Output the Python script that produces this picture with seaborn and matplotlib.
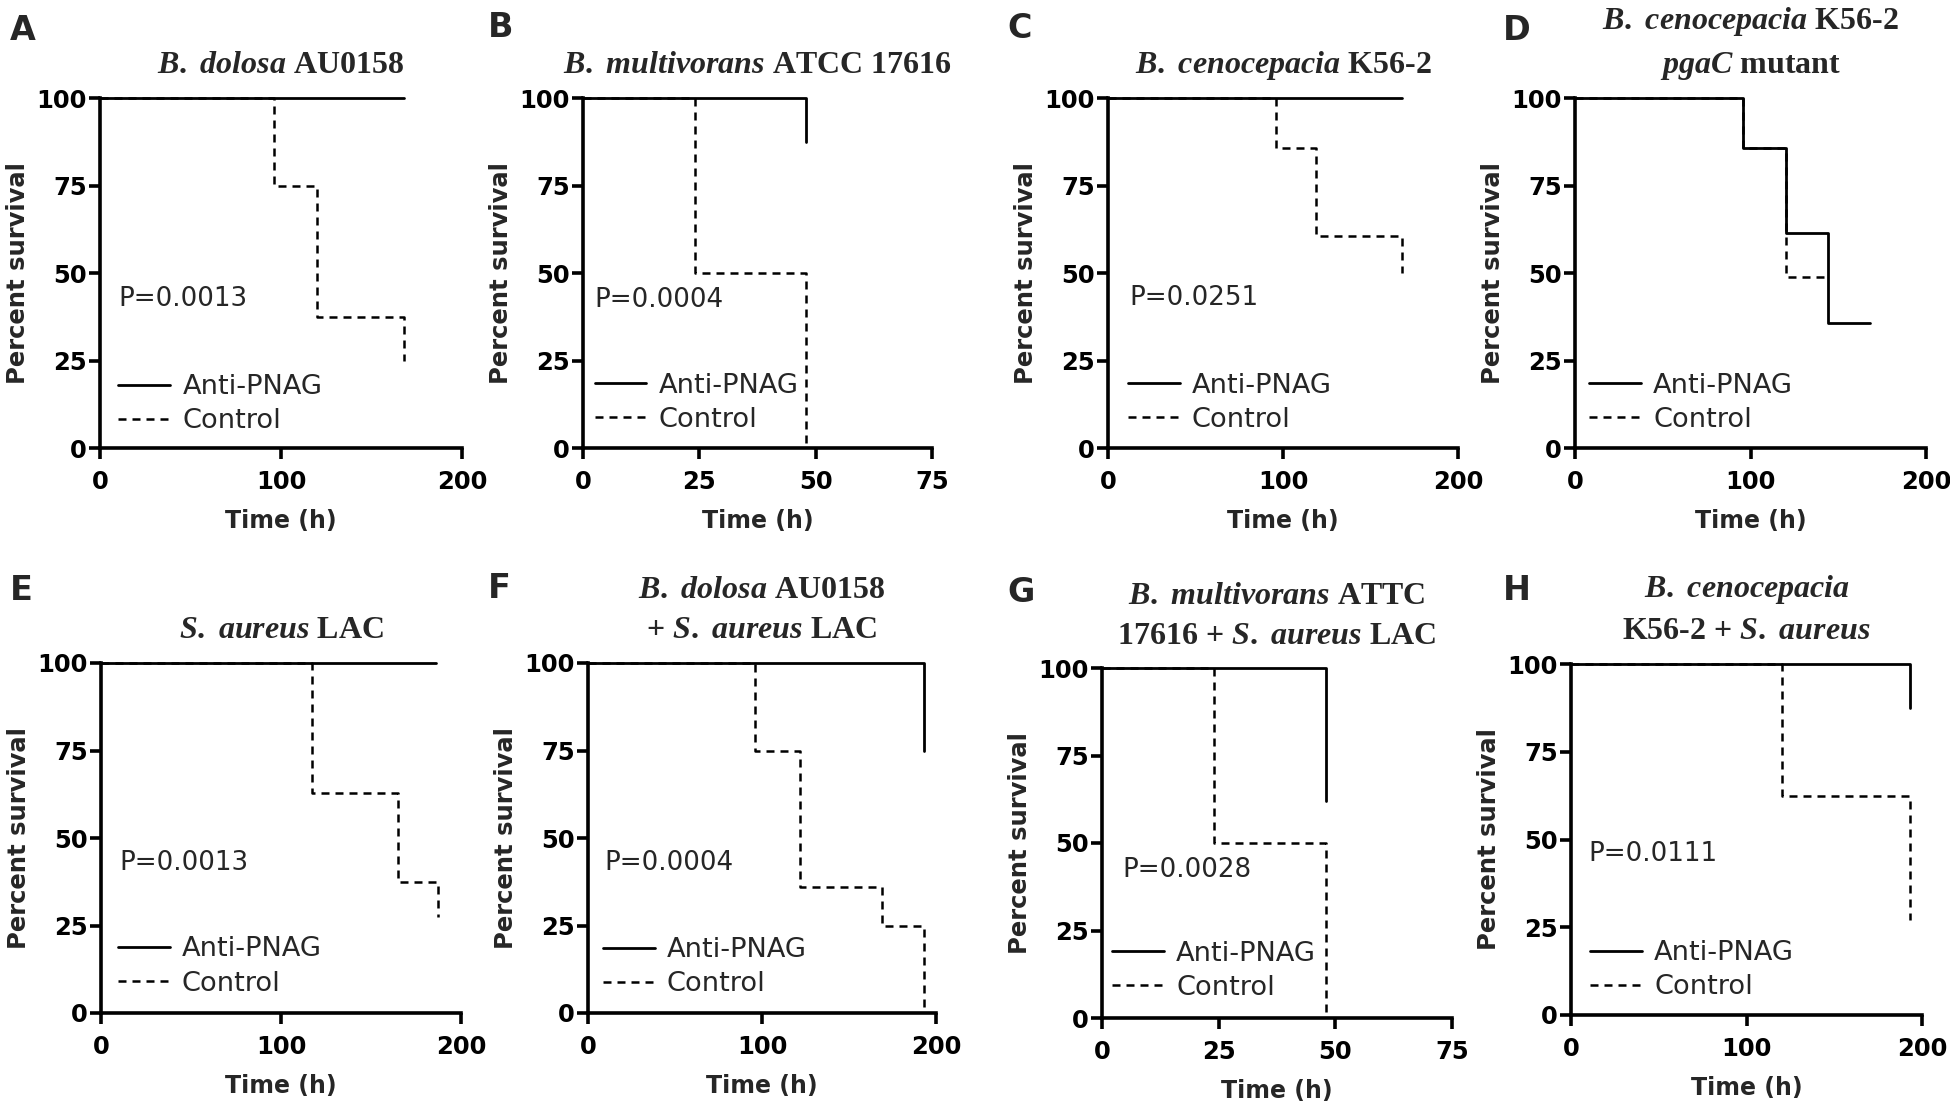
import matplotlib
matplotlib.use('Agg')
import matplotlib.pyplot as plt
import seaborn as sns

# survival curves: time (h) and percent survival
a_anti_t = [0, 168]
a_anti_s = [100, 100]
a_ctrl_t = [0, 96, 120, 168]
a_ctrl_s = [100, 75, 37.5, 25]

b_anti_t = [0, 48]
b_anti_s = [100, 87.5]
b_ctrl_t = [0, 24, 48]
b_ctrl_s = [100, 50, 0]

c_anti_t = [0, 168]
c_anti_s = [100, 100]
c_ctrl_t = [0, 96, 119, 168]
c_ctrl_s = [100, 85.7, 60.7, 50]

d_anti_t = [0, 96, 120, 144, 168]
d_anti_s = [100, 85.7, 61.5, 35.7, 35.7]
d_ctrl_t = [0, 96, 120, 144]
d_ctrl_s = [100, 85.7, 49, 49]

e_anti_t = [0, 186]
e_anti_s = [100, 100]
e_ctrl_t = [0, 117, 165, 187]
e_ctrl_s = [100, 63, 37.5, 27.5]

f_anti_t = [0, 193]
f_anti_s = [100, 75]
f_ctrl_t = [0, 96, 122, 169, 193]
f_ctrl_s = [100, 75, 36, 25, 0]

g_anti_t = [0, 48]
g_anti_s = [100, 62]
g_ctrl_t = [0, 24, 48]
g_ctrl_s = [100, 50, 0]

h_anti_t = [0, 193]
h_anti_s = [100, 87.5]
h_ctrl_t = [0, 120, 193]
h_ctrl_s = [100, 62.5, 27]

letters = ['A', 'B', 'C', 'D', 'E', 'F', 'G', 'H']
titles = [
    r'$\mathit{B.\ dolosa}$ AU0158',
    r'$\mathit{B.\ multivorans}$ ATCC 17616',
    r'$\mathit{B.\ cenocepacia}$ K56-2',
    r'$\mathit{B.\ cenocepacia}$ K56-2' + '\n' + r'$\mathit{pgaC}$ mutant',
    r'$\mathit{S.\ aureus}$ LAC',
    r'$\mathit{B.\ dolosa}$ AU0158' + '\n' + r'+ $\mathit{S.\ aureus}$ LAC',
    r'$\mathit{B.\ multivorans}$ ATTC' + '\n' + r'17616 + $\mathit{S.\ aureus}$ LAC',
    r'$\mathit{B.\ cenocepacia}$' + '\n' + r'K56-2 + $\mathit{S.\ aureus}$',
]
p_values = ['P=0.0013', 'P=0.0004', 'P=0.0251', None,
            'P=0.0013', 'P=0.0004', 'P=0.0028', 'P=0.0111']
x_max = [200, 75, 200, 200, 200, 200, 75, 200]
x_ticks = [[0, 100, 200], [0, 25, 50, 75], [0, 100, 200], [0, 100, 200],
           [0, 100, 200], [0, 100, 200], [0, 25, 50, 75], [0, 100, 200]]
y_ticks = [0, 25, 50, 75, 100]
groups = ['Anti-PNAG', 'Control']

anti = [(a_anti_t, a_anti_s), (b_anti_t, b_anti_s), (c_anti_t, c_anti_s), (d_anti_t, d_anti_s),
        (e_anti_t, e_anti_s), (f_anti_t, f_anti_s), (g_anti_t, g_anti_s), (h_anti_t, h_anti_s)]
ctrl = [(a_ctrl_t, a_ctrl_s), (b_ctrl_t, b_ctrl_s), (c_ctrl_t, c_ctrl_s), (d_ctrl_t, d_ctrl_s),
        (e_ctrl_t, e_ctrl_s), (f_ctrl_t, f_ctrl_s), (g_ctrl_t, g_ctrl_s), (h_ctrl_t, h_ctrl_s)]

# layout (pixels in a 1950x1109 canvas): axes boxes left, top, right, bottom
W, H = 1950, 1109
boxes = [(100, 98, 462, 448), (583, 98, 932, 448), (1108, 98, 1458, 448), (1575, 98, 1926, 448),
         (101, 663, 461, 1013), (588, 663, 936, 1013), (1102, 668, 1452, 1018), (1571, 664, 1922, 1015)]
letter_pos = [(10, 14), (488, 11), (1007, 12), (1503, 14),
              (10, 574), (488, 572), (1007, 576), (1503, 574)]
title_pad = [18, 18, 18, 18, 18, 18, 17, 18]
# legend lower-left and P text (baseline) in axes fraction
leg_pos = [(0.051, 0.039), (0.033, 0.043), (0.057, 0.043), (0.040, 0.043),
           (0.047, 0.047), (0.043, 0.045), (0.029, 0.049), (0.055, 0.042)]
p_pos = [(0.051, 0.407), (0.033, 0.403), (0.062, 0.408), None,
         (0.052, 0.41), (0.048, 0.409), (0.057, 0.402), (0.050, 0.439)]

sns.set_style('ticks')
plt.rcParams['font.family'] = ['DejaVu Sans']
plt.rcParams['mathtext.fontset'] = 'custom'
plt.rcParams['mathtext.it'] = 'Liberation Serif:italic:bold'
plt.rcParams['mathtext.rm'] = 'Liberation Serif:bold'
plt.rcParams['mathtext.bf'] = 'Liberation Serif:bold'

fig = plt.figure(figsize=(W / 100, H / 100), dpi=100)

for i in range(8):
    l, t, r, b = boxes[i]
    ax = fig.add_axes([l / W, 1 - b / H, (r - l) / W, (b - t) / H])

    sns.lineplot(x=anti[i][0], y=anti[i][1], ax=ax, color='black', lw=2.0,
                 drawstyle='steps-post', estimator=None, errorbar=None, sort=False,
                 clip_on=False)
    sns.lineplot(x=ctrl[i][0], y=ctrl[i][1], ax=ax, color='black', lw=1.8,
                 linestyle=(0, (3.2, 2.4)), drawstyle='steps-post', estimator=None,
                 errorbar=None, sort=False, clip_on=False)

    ax.set_xlim(0, x_max[i])
    ax.set_ylim(0, 100)
    ax.set_xticks(x_ticks[i])
    ax.set_yticks(y_ticks)
    sns.despine(ax=ax)
    for side in ['left', 'bottom']:
        ax.spines[side].set_linewidth(2.6)
        ax.spines[side].set_color('black')
        ax.spines[side].set_capstyle('projecting')
    ax.tick_params(axis='both', direction='out', length=8, width=2.6, color='black',
                   labelsize=17.5, labelcolor='black')
    ax.tick_params(axis='x', pad=7.5)
    ax.tick_params(axis='y', pad=1.5)
    for lab in ax.get_xticklabels() + ax.get_yticklabels():
        lab.set_fontweight('bold')

    ax.set_xlabel('Time (h)', fontsize=17, fontweight='bold', labelpad=11)
    ax.set_ylabel('Percent survival', fontsize=17.5, fontweight='bold', labelpad=4.5)
    ax.set_title(titles[i], fontsize=23, fontfamily='Liberation Serif', fontweight='bold',
                 pad=title_pad[i], linespacing=1.5)

    handles = ax.get_lines()[:2]
    ax.legend(handles, groups, loc='lower left', bbox_to_anchor=leg_pos[i], frameon=False,
              fontsize=19.6, handlelength=1.9, handletextpad=0.45, labelspacing=0.3,
              borderpad=0, borderaxespad=0)

    if p_values[i]:
        ax.text(p_pos[i][0], p_pos[i][1], p_values[i], transform=ax.transAxes,
                fontsize=18.8, ha='left', va='baseline')

    fig.text(letter_pos[i][0] / W, 1 - letter_pos[i][1] / H, letters[i], fontsize=24,
             fontweight='bold', ha='left', va='top')

fig.savefig('out.png', dpi=100, facecolor='white')
